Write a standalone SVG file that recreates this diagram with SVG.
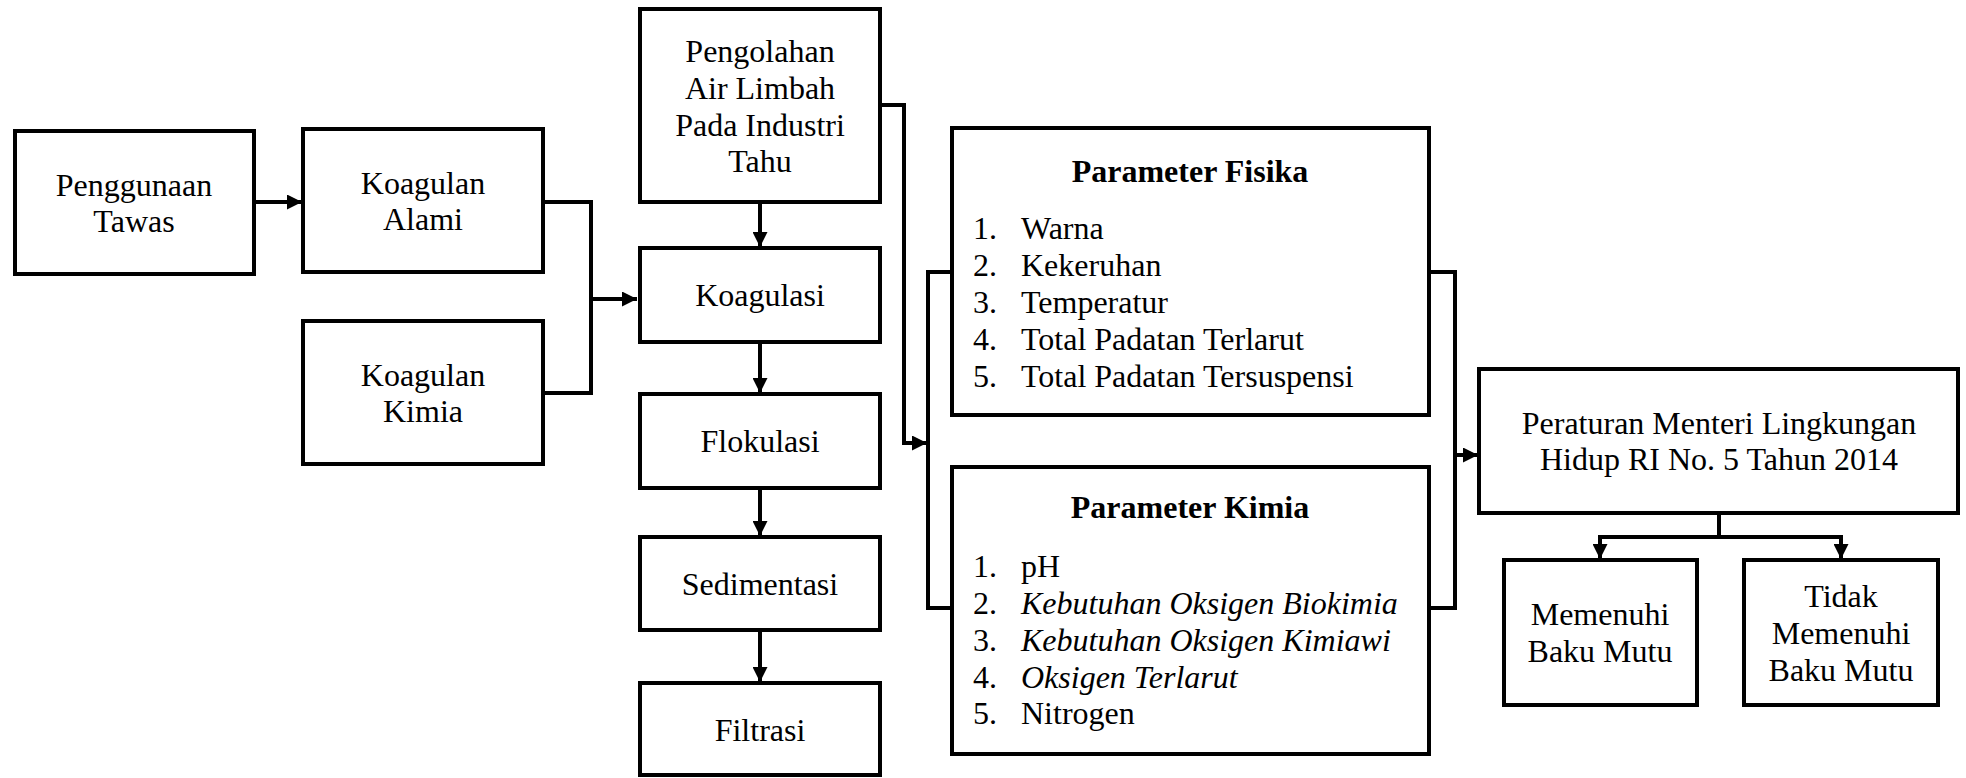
<svg xmlns="http://www.w3.org/2000/svg" width="1966" height="778" viewBox="0 0 1966 778">
<style>
  .box { fill: #fff; stroke: #000; stroke-width: 4; }
  .t { font-family: "Liberation Serif", "Times New Roman", serif; font-size: 32px; fill: #000; }
  .c { text-anchor: middle; }
  .b { font-weight: bold; }
  .i { font-style: italic; }
  .ln { fill: none; stroke: #000; stroke-width: 4; }
</style>
<defs>
  <marker id="ah" markerUnits="userSpaceOnUse" markerWidth="15" markerHeight="15" refX="15" refY="7.5" orient="auto">
    <path d="M0,0 L15,7.5 L0,15 z" fill="#000"/>
  </marker>
</defs>
<rect width="1966" height="778" fill="#fff"/>

<g id="connectors">
  <line class="ln" x1="254" y1="202" x2="302" y2="202" marker-end="url(#ah)"/>
  <polyline class="ln" points="543,202 591,202 591,393 543,393"/>
  <line class="ln" x1="591" y1="299" x2="637" y2="299" marker-end="url(#ah)"/>
  <line class="ln" x1="760" y1="202" x2="760" y2="247" marker-end="url(#ah)"/>
  <line class="ln" x1="760" y1="342" x2="760" y2="393" marker-end="url(#ah)"/>
  <line class="ln" x1="760" y1="488" x2="760" y2="536" marker-end="url(#ah)"/>
  <line class="ln" x1="760" y1="630" x2="760" y2="682" marker-end="url(#ah)"/>
  <polyline class="ln" points="880,105 904,105 904,443 927,443" marker-end="url(#ah)"/>
  <polyline class="ln" points="952,272 928,272 928,608 952,608"/>
  <polyline class="ln" points="1429,272 1455,272 1455,608 1429,608"/>
  <line class="ln" x1="1455" y1="455" x2="1478" y2="455" marker-end="url(#ah)"/>
  <line class="ln" x1="1719" y1="513" x2="1719" y2="537"/>
  <polyline class="ln" points="1600,559 1600,537 1841,537 1841,559"/>
  <line class="ln" x1="1600" y1="545" x2="1600" y2="559" marker-end="url(#ah)"/>
  <line class="ln" x1="1841" y1="545" x2="1841" y2="559" marker-end="url(#ah)"/>
</g>

<g id="penggunaan">
  <rect class="box" x="15" y="131" width="239" height="143"/>
  <text class="t c" x="134" y="196">Penggunaan</text>
  <text class="t c" x="134" y="232">Tawas</text>
</g>
<g id="koagulan-alami">
  <rect class="box" x="303" y="129" width="240" height="143"/>
  <text class="t c" x="423" y="194">Koagulan</text>
  <text class="t c" x="423" y="230">Alami</text>
</g>
<g id="koagulan-kimia">
  <rect class="box" x="303" y="321" width="240" height="143"/>
  <text class="t c" x="423" y="386">Koagulan</text>
  <text class="t c" x="423" y="422">Kimia</text>
</g>
<g id="pengolahan">
  <rect class="box" x="640" y="9" width="240" height="193"/>
  <text class="t c" x="760" y="62">Pengolahan</text>
  <text class="t c" x="760" y="99">Air Limbah</text>
  <text class="t c" x="760" y="136">Pada Industri</text>
  <text class="t c" x="760" y="172">Tahu</text>
</g>
<g id="koagulasi">
  <rect class="box" x="640" y="248" width="240" height="94"/>
  <text class="t c" x="760" y="306">Koagulasi</text>
</g>
<g id="flokulasi">
  <rect class="box" x="640" y="394" width="240" height="94"/>
  <text class="t c" x="760" y="452">Flokulasi</text>
</g>
<g id="sedimentasi">
  <rect class="box" x="640" y="537" width="240" height="93"/>
  <text class="t c" x="760" y="595">Sedimentasi</text>
</g>
<g id="filtrasi">
  <rect class="box" x="640" y="683" width="240" height="92"/>
  <text class="t c" x="760" y="741">Filtrasi</text>
</g>
<g id="parameter-fisika">
  <rect class="box" x="952" y="128" width="477" height="287"/>
  <text class="t c b" x="1190" y="182">Parameter Fisika</text>
  <text class="t" x="973" y="239">1.</text><text class="t" x="1021" y="239">Warna</text>
  <text class="t" x="973" y="276">2.</text><text class="t" x="1021" y="276">Kekeruhan</text>
  <text class="t" x="973" y="313">3.</text><text class="t" x="1021" y="313">Temperatur</text>
  <text class="t" x="973" y="350">4.</text><text class="t" x="1021" y="350">Total Padatan Terlarut</text>
  <text class="t" x="973" y="387">5.</text><text class="t" x="1021" y="387">Total Padatan Tersuspensi</text>
</g>
<g id="parameter-kimia">
  <rect class="box" x="952" y="467" width="477" height="287"/>
  <text class="t c b" x="1190" y="518">Parameter Kimia</text>
  <text class="t" x="973" y="577">1.</text><text class="t" x="1021" y="577">pH</text>
  <text class="t" x="973" y="614">2.</text><text class="t i" x="1021" y="614">Kebutuhan Oksigen Biokimia</text>
  <text class="t" x="973" y="651">3.</text><text class="t i" x="1021" y="651">Kebutuhan Oksigen Kimiawi</text>
  <text class="t" x="973" y="688">4.</text><text class="t i" x="1021" y="688">Oksigen Terlarut</text>
  <text class="t" x="973" y="724">5.</text><text class="t" x="1021" y="724">Nitrogen</text>
</g>
<g id="peraturan">
  <rect class="box" x="1479" y="369" width="479" height="144"/>
  <text class="t c" x="1719" y="434">Peraturan Menteri Lingkungan</text>
  <text class="t c" x="1719" y="470">Hidup RI No. 5 Tahun 2014</text>
</g>
<g id="memenuhi">
  <rect class="box" x="1504" y="560" width="193" height="145"/>
  <text class="t c" x="1600" y="625">Memenuhi</text>
  <text class="t c" x="1600" y="662">Baku Mutu</text>
</g>
<g id="tidak-memenuhi">
  <rect class="box" x="1744" y="560" width="194" height="145"/>
  <text class="t c" x="1841" y="607">Tidak</text>
  <text class="t c" x="1841" y="644">Memenuhi</text>
  <text class="t c" x="1841" y="681">Baku Mutu</text>
</g>
</svg>
